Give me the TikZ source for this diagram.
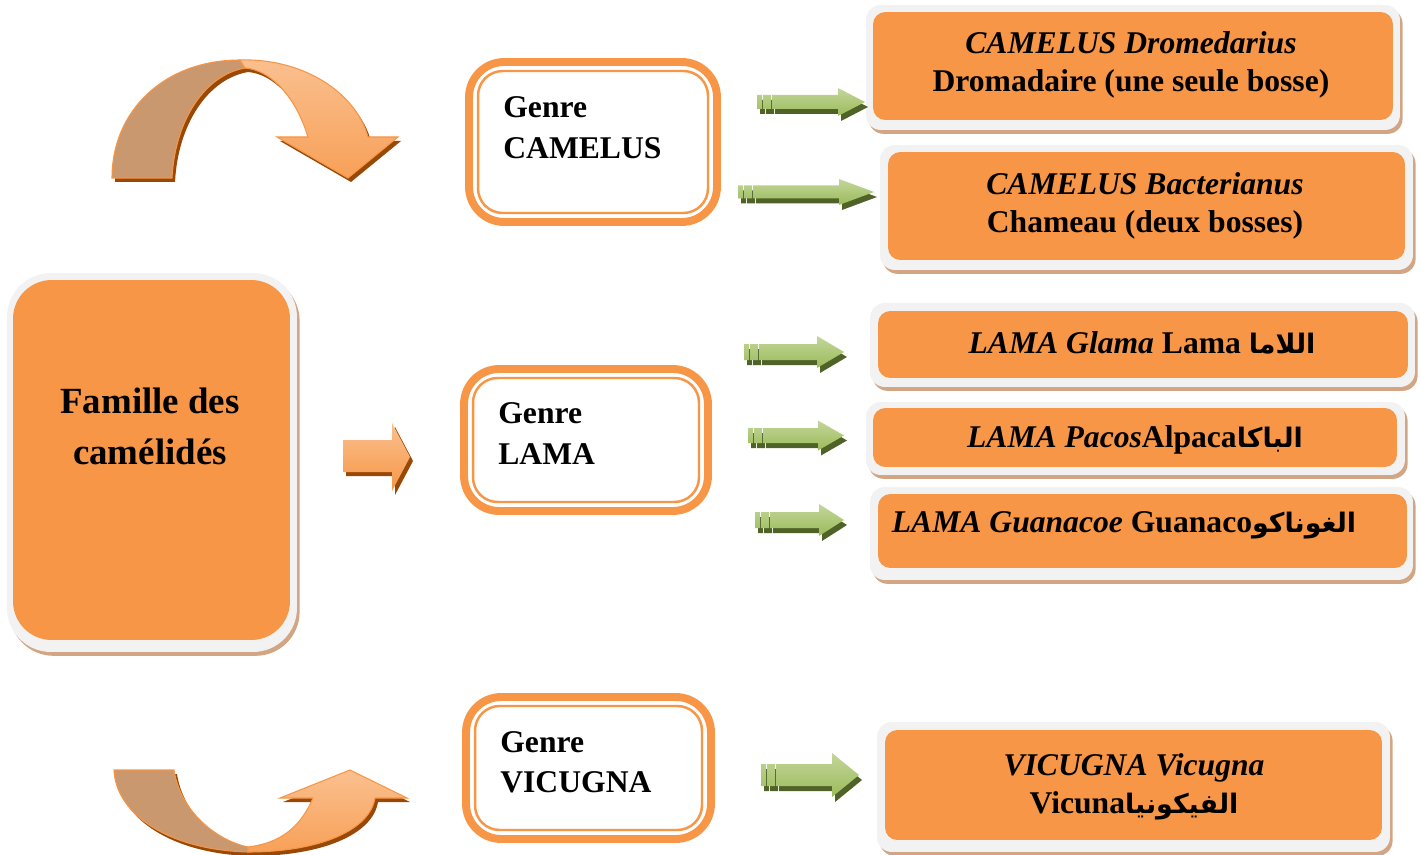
\documentclass[tikz,border=0pt]{standalone}
\usepackage{fontspec}
\setmainfont{Liberation Serif}
\newfontfamily\arabicfont[Script=Arabic,Scale=0.85]{DejaVu Sans}
\TeXXeTstate=1
\usetikzlibrary{shadows}

\definecolor{orangemain}{HTML}{F79646}
\definecolor{orangelight}{HTML}{FAC08F}
\definecolor{orangedark}{HTML}{984807}
\definecolor{camelback}{HTML}{C9986F}
\definecolor{framegrey}{HTML}{F2F2F2}
\definecolor{framebrown}{HTML}{D2A684}
\definecolor{greenmain}{HTML}{9BBB59}
\definecolor{greenlight}{HTML}{C3D69B}
\definecolor{greendark}{HTML}{4F6228}

\tikzset{
  txt/.style={font=\fontsize{18}{21.5}\selectfont\bfseries, inner sep=0pt, align=center},
  gtxt/.style={font=\fontsize{18}{23}\selectfont\bfseries, inner sep=0pt, align=left, anchor=west},
  frame/.style={fill=framegrey, inner sep=0pt, outer sep=0pt, rounded corners=8.5pt,
    general shadow={fill=framebrown, shadow xshift=1.5pt, shadow yshift=-2.2pt}},
  inbox/.style={fill=orangemain, inner sep=0pt, outer sep=0pt, rounded corners=7pt},
  genrebox/.style={draw=orangemain, line width=4.5pt, fill=white, inner sep=0pt, outer sep=0pt, rounded corners=20pt},
  genreline/.style={draw=orangemain, line width=1.4pt, rounded corners=14pt},
  bandline/.style={draw=orangemain, line width=0.6pt}
}

% tail, tip, y, half thickness, head length
\newcommand\garrow[5]{%
  \begin{scope}[shift={(3,5)}]
    \fill[greendark] (#1,{#3-#4}) rectangle ({#1+5},{#3+#4}) ({#1+6},{#3-#4}) rectangle ({#1+14},{#3+#4})
      ({#1+15},{#3-#4}) -- ({#2-#5},{#3-#4}) -- ({#2-#5},{#3-2*#4}) -- (#2,#3)
      -- ({#2-#5},{#3+2*#4}) -- ({#2-#5},{#3+#4}) -- ({#1+15},{#3+#4}) -- cycle;
  \end{scope}
  \shade[top color=greenlight, bottom color=greenmain] (#1,{#3-#4}) rectangle ({#1+5},{#3+#4}) ({#1+6},{#3-#4}) rectangle ({#1+14},{#3+#4})
      ({#1+15},{#3-#4}) -- ({#2-#5},{#3-#4}) -- ({#2-#5},{#3-2*#4}) -- (#2,#3)
      -- ({#2-#5},{#3+2*#4}) -- ({#2-#5},{#3+#4}) -- ({#1+15},{#3+#4}) -- cycle;
}

\begin{document}
\begin{tikzpicture}[x=0.02cm, y=-0.02cm]

  \fill[white] (0,0) rectangle (1421,855);
  \useasboundingbox (0,0) rectangle (1421,855);

  % curved arrow, top
  \fill[orangedark, shift={(3,4)}] (112,178) .. controls (112,110) and (165,60) .. (240,60)
    .. controls (300,58) and (355,90) .. (368,137) -- (398,137) -- (348,178) -- (277,137) -- (308,137)
    .. controls (295,95) and (270,70) .. (245,68) .. controls (205,75) and (175,120) .. (172,178) -- cycle;
  \filldraw[bandline, fill=camelback] (112,178) .. controls (112,110) and (165,60) .. (240,60) -- (245,68)
    .. controls (205,75) and (175,120) .. (172,178) -- cycle;
  \shadedraw[bandline, top color=orangelight, middle color=orangemain, bottom color=orangemain!75!orangelight]
    (240,60) .. controls (300,58) and (355,90) .. (368,137) -- (398,137) -- (348,178) -- (277,137) -- (308,137)
    .. controls (295,95) and (270,70) .. (245,68) -- cycle;

  % curved arrow, bottom
  \fill[orangedark, shift={(3,4)}] (114,770) -- (174,770) .. controls (180,810) and (215,840) .. (248,847)
    .. controls (280,843) and (300,828) .. (313,798) -- (280,798) -- (350,770) -- (407,798) -- (375,798)
    .. controls (370,830) and (320,852) .. (248,852) .. controls (170,850) and (116,815) .. (114,770) -- cycle;
  \filldraw[bandline, fill=camelback] (114,770) -- (174,770) .. controls (180,810) and (215,840) .. (248,847)
    -- (248,852) .. controls (170,850) and (116,815) .. (114,770) -- cycle;
  \shadedraw[bandline, top color=orangelight, middle color=orangemain, bottom color=orangemain!75!orangelight]
    (248,847) .. controls (280,843) and (300,828) .. (313,798) -- (280,798) -- (350,770) -- (407,798) -- (375,798)
    .. controls (370,830) and (320,852) .. (248,852) -- cycle;

  % small arrow
  \fill[orangedark, shift={(3,4)}] (343,440) -- (392,440) -- (392,423) -- (410,457) -- (392,491) -- (392,472) -- (343,472) -- cycle;
  \shade[top color=orangelight, bottom color=orangemain] (343,440) -- (392,440) -- (392,423) -- (410,457) -- (392,491) -- (392,472) -- (343,472) -- cycle;

  % family
  \node[frame, rounded corners=25pt, minimum width=5.8cm, minimum height=7.58cm] (fam-f) at (152,462.5) {};
  \node[inbox, rounded corners=22pt, minimum width=5.54cm, minimum height=7.2cm] (fam) at (151.5,460) {};
  \node[txt, font=\fontsize{21}{29}\selectfont\bfseries] (fam-t) at (150,426) {Famille des\\camélidés};

  % genres
  \node[genrebox, minimum width=4.96cm, minimum height=3.2cm] (camelus) at (593,142) {};
  \node[genrebox, minimum width=4.88cm, minimum height=2.84cm] (lama) at (586,440) {};
  \node[genrebox, minimum width=4.9cm, minimum height=2.84cm] (vicugna) at (588.5,768) {};
  \foreach \g in {camelus,lama,vicugna}
    \draw[genreline] ([shift={(9,9)}]\g.north west) rectangle ([shift={(-9,-9)}]\g.south east);
  \node[gtxt] (camelus-t) at (503,127.5) {Genre\\CAMELUS};
  \node[gtxt] (lama-t) at (498,433.5) {Genre\\LAMA};
  \node[gtxt] (vicugna-t) at (500,762) {Genre\\VICUGNA};

  % species
  \node[frame, minimum width=10.68cm, minimum height=2.5cm] (dro-f) at (1133,67.5) {};
  \node[inbox, minimum width=10.4cm, minimum height=2.16cm] (dro) at (1133,66) {};
  \node[frame, minimum width=10.66cm, minimum height=2.5cm] (bac-f) at (1146.5,207.5) {};
  \node[inbox, minimum width=10.34cm, minimum height=2.16cm] (bac) at (1146.5,206) {};
  \node[frame, minimum width=10.9cm, minimum height=1.68cm] (gla-f) at (1142.5,345) {};
  \node[inbox, minimum width=10.6cm, minimum height=1.34cm] (gla) at (1143,344.5) {};
  \node[frame, minimum width=10.78cm, minimum height=1.46cm] (pac-f) at (1135.5,438.5) {};
  \node[inbox, minimum width=10.48cm, minimum height=1.18cm] (pac) at (1135,437.5) {};
  \node[frame, minimum width=10.86cm, minimum height=1.86cm] (gua-f) at (1141.5,533.5) {};
  \node[inbox, minimum width=10.58cm, minimum height=1.48cm] (gua) at (1142.5,531) {};
  \node[frame, minimum width=10.26cm, minimum height=2.6cm] (vic-f) at (1133.5,787) {};
  \node[inbox, minimum width=9.94cm, minimum height=2.2cm] (vic) at (1133.5,785) {};

  \node[txt] (dro-t) at (1131,65) {\textit{CAMELUS Dromedarius}\\Dromadaire (une seule bosse)};
  \node[txt] (bac-t) at (1145,206) {\textit{CAMELUS Bacterianus}\\Chameau (deux bosses)};
  \node[txt] (gla-t) at (1142,343) {\textit{LAMA Glama} Lama {\arabicfont\beginR اللاما\endR}};
  \node[txt] (pac-t) at (1135,440) {\textit{LAMA Pacos}Alpaca{\arabicfont\beginR الباكا\endR}};
  \node[txt] (gua-t) at (1124,525) {\textit{LAMA Guanacoe} Guanaco{\arabicfont\beginR الغوناكو\endR}};
  \node[txt] (vic-t) at (1134,787) {\textit{VICUGNA Vicugna}\\Vicuna{\arabicfont\beginR الفيكونيا\endR}};

  % green arrows
  \garrow{757}{865}{102}{7}{27}
  \garrow{738}{874}{192}{6.5}{35}
  \garrow{744}{844}{352}{8}{27}
  \garrow{748}{844}{435.5}{7.5}{26}
  \garrow{755}{844}{520}{8}{25}
  \garrow{761}{859}{775}{11}{27}

\end{tikzpicture}
\end{document}
